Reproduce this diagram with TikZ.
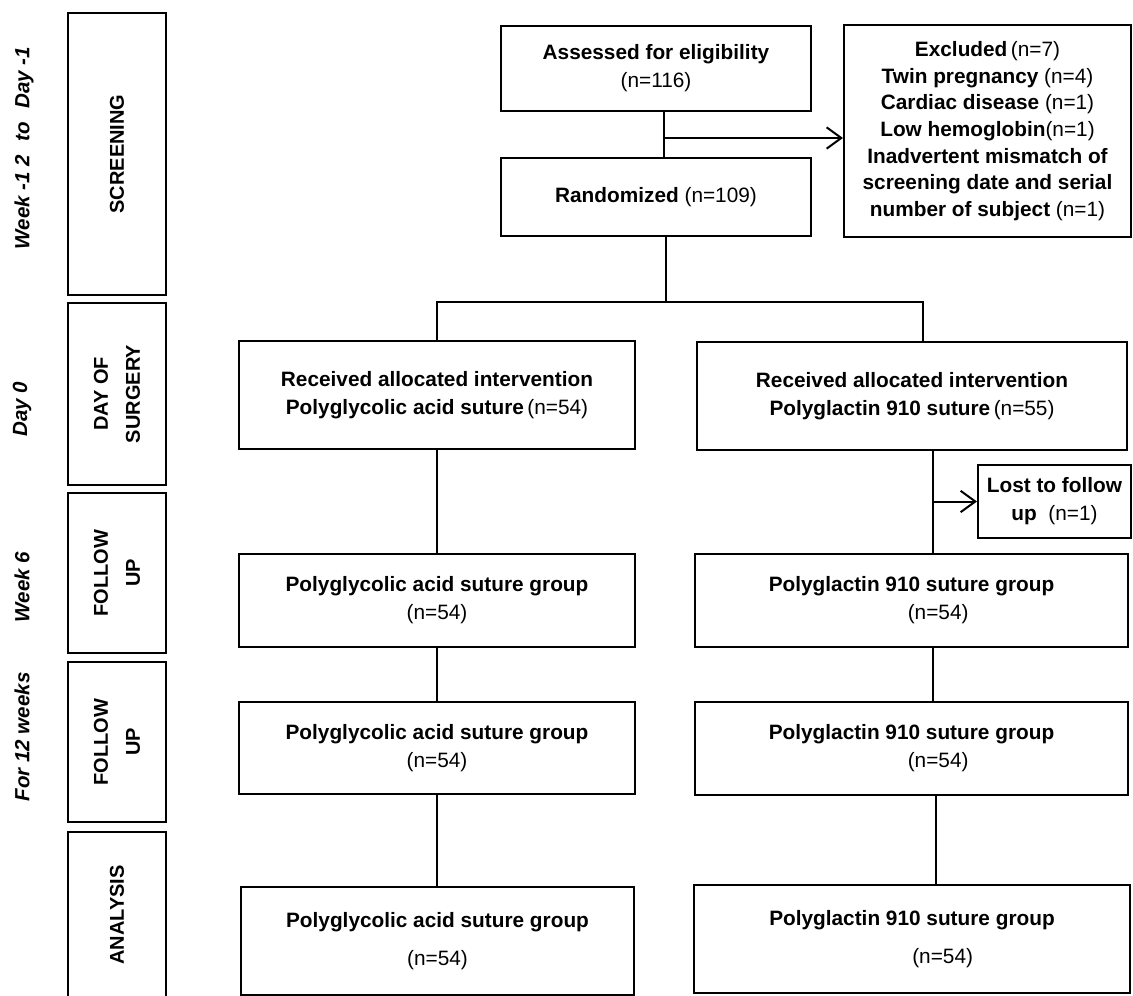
\documentclass[tikz,border=0pt]{standalone}
\usepackage{fontspec}
\setmainfont{Liberation Sans}
\usetikzlibrary{arrows.meta}
\newcommand{\unitpx}{0.75pt}

\begin{document}
\begin{tikzpicture}[x=0.75pt, y=-0.75pt,
  box/.style={draw, line width=1.5pt, align=center, inner sep=0pt, font=\fontsize{15.6}{21}\selectfont},
  phase/.style={draw, line width=1.5pt, rotate=90, align=center, inner sep=0pt, minimum height=98*\unitpx, font=\bfseries\fontsize{15}{24}\selectfont},
  period/.style={rotate=90, font=\bfseries\itshape\fontsize{15.4}{19}\selectfont},
  link/.style={line width=1.5pt},
  arr/.style={line width=1.5pt, -{Straight Barb[length=11pt,width=16pt]}}]
  \useasboundingbox (0,0) rectangle (1133,996);

  % Phases
  \node[phase, minimum width=282*\unitpx] (scr) at (117,154) {SCREENING};
  \node[phase, minimum width=182*\unitpx] (dos) at (117,394) {DAY OF\\SURGERY};
  \node[phase, minimum width=160*\unitpx] (fu1) at (117,573) {FOLLOW\\UP};
  \node[phase, minimum width=160*\unitpx] (fu2) at (117,742) {FOLLOW\\UP};
  \node[phase, minimum width=166*\unitpx] (ana) at (117,915) {ANALYSIS};

  % Periods
  \node[period] (per1) at (24,148) {Week -1\hspace{4pt}2\hspace{6pt} to\hspace{6pt} Day -1};
  \node[period] (per2) at (22,409) {Day 0};
  \node[period] (per3) at (22,587) {Week 6};
  \node[period] (per4) at (22,737) {For 12 weeks};

  % Enrolment
  \node[box, minimum width=310*\unitpx, minimum height=85*\unitpx] (ase) at (656,68.5) {\textbf{Assessed for eligibility}\\(n=116)};
  \node[box, minimum width=310*\unitpx, minimum height=78*\unitpx] (ran) at (656,197) {\textbf{Randomized} (n=109)};
  \node[box, minimum width=287*\unitpx, minimum height=212*\unitpx, font=\fontsize{15.6}{20}\selectfont] (exc) at (987.5,131) {\textbf{Excluded}\,(n=7)\\\textbf{Twin pregnancy} (n=4)\\\textbf{Cardiac disease} (n=1)\\\textbf{Low hemoglobin}(n=1)\\\textbf{Inadvertent mismatch of}\\\textbf{screening date and serial}\\\textbf{number of subject} (n=1)};

  % Allocation
  \node[box, minimum width=396*\unitpx, minimum height=108*\unitpx] (rec1) at (437,395) {\textbf{Received allocated intervention}\\\textbf{Polyglycolic acid suture}\,(n=54)};
  \node[box, minimum width=430*\unitpx, minimum height=108*\unitpx] (rec2) at (912,396) {\textbf{Received allocated intervention}\\\textbf{Polyglactin 910 suture}\,(n=55)};
  \node[box, minimum width=153*\unitpx, minimum height=73*\unitpx] (lost) at (1054.5,501.5) {\textbf{Lost to follow}\\\textbf{up}\ \ (n=1)};

  % Follow up and analysis
  \node[box, minimum width=396*\unitpx, minimum height=93*\unitpx] (g1a) at (437,600.5) {\textbf{Polyglycolic acid suture group}\\(n=54)};
  \node[box, minimum width=433*\unitpx, minimum height=93*\unitpx] (g2a) at (911.5,600.5) {\textbf{Polyglactin 910 suture group}\\\hspace*{40pt}(n=54)};
  \node[box, minimum width=396*\unitpx, minimum height=92*\unitpx] (g1b) at (437,748) {\textbf{Polyglycolic acid suture group}\\(n=54)};
  \node[box, minimum width=433*\unitpx, minimum height=93*\unitpx] (g2b) at (911.5,748.5) {\textbf{Polyglactin 910 suture group}\\\hspace*{40pt}(n=54)};
  \node[box, minimum width=393*\unitpx, minimum height=108*\unitpx] (g1c) at (437.5,941) {\textbf{Polyglycolic acid suture group}\\[7pt](n=54)};
  \node[box, minimum width=436*\unitpx, minimum height=108*\unitpx] (g2c) at (912,939) {\textbf{Polyglactin 910 suture group}\\[7pt]\hspace*{46pt}(n=54)};

  % Lines and arrows
  \coordinate (sp) at (664,138);
  \draw[link] (sp |- ase.south) -- (sp |- ran.north);
  \draw[arr] (sp) -- (exc.west |- sp);

  \coordinate (mid) at (666,302);
  \coordinate (bl) at (437,302);
  \coordinate (br) at (923,302);
  \draw[link] (mid |- ran.south) -- (mid);
  \draw[link] (rec1.north) -- (bl) -- (br) -- (br |- rec2.north);

  \draw[link] (rec1.south) -- (g1a.north);
  \draw[link] (g1a.south) -- (g1b.north);
  \draw[link] (g1b.south) -- (g1b.south |- g1c.north);

  \coordinate (rc) at (933,501.5);
  \coordinate (rc2) at (936,840);
  \draw[link] (rc |- rec2.south) -- (rc |- g2a.north);
  \draw[arr] (rc) -- (lost.west);
  \draw[link] (rc |- g2a.south) -- (rc |- g2b.north);
  \draw[link] (rc2 |- g2b.south) -- (rc2 |- g2c.north);
\end{tikzpicture}
\end{document}
